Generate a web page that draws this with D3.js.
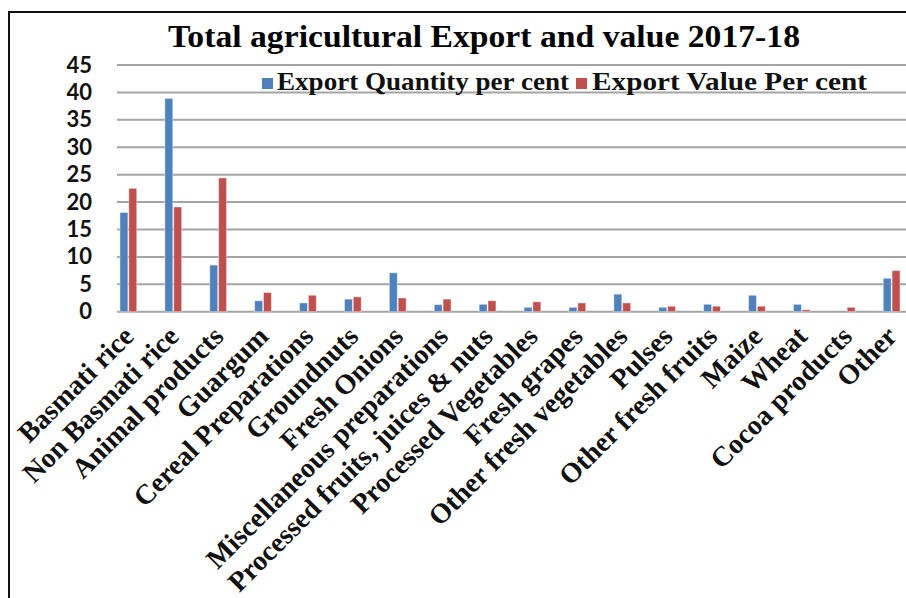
<!DOCTYPE html>
<html>
<head>
<meta charset="utf-8">
<script src="https://cdn.jsdelivr.net/npm/d3@7"></script>
<style>
  body { margin: 0; background: #fff; }
  svg { display: block; }
</style>
</head>
<body>
<svg id="chart"></svg>
<script>
const width = 906, height = 598

const categories = [
    "Basmati rice", "Non Basmati rice", "Animal products", "Guargum",
    "Cereal Preparations", "Groundnuts", "Fresh Onions", "Miscellaneous preparations",
    "Processed fruits, juices & nuts", "Processed Vegetables", "Fresh grapes",
    "Other fresh vegetables", "Pulses", "Other fresh fruits", "Maize", "Wheat",
    "Cocoa products", "Other",
]
const quantityPct = [18.1, 38.9, 8.5, 2.0, 1.6, 2.3, 7.1, 1.3, 1.35, 0.8, 0.8, 3.2, 0.8, 1.35, 3.0, 1.35, 0, 6.1]
const valuePct = [22.5, 19.1, 24.4, 3.5, 3.0, 2.7, 2.5, 2.3, 2.0, 1.8, 1.6, 1.6, 1.0, 1.0, 1.0, 0.35, 0.8, 7.5]
const seriesNames = ["Export Quantity per cent", "Export Value Per cent"]
const yTicks = [0, 5, 10, 15, 20, 25, 30, 35, 40, 45]

const colors = ["#4f81bd", "#c0504d"]

const svg = d3.select("svg#chart")
    .attr("width", width)
    .attr("height", height)
    .attr("viewBox", [0, 0, width, height])

const xScale = d3.scaleBand()
    .domain(categories)
    .range([105.9, 105.9 + 44.9 * categories.length])

const yScale = d3.scaleLinear()
    .domain([0, 45])
    .range([311.7, 65])

const innerScale = d3.scaleBand()
    .domain(d3.range(seriesNames.length))
    .range([xScale.bandwidth() / 2 - 8.4, xScale.bandwidth() / 2 + 8.4])
    .paddingInner(0.1)

// frame
svg.append("path")
    .attr("d", `M9,${height} V12 H${width}`)
    .attr("fill", "none")
    .attr("stroke", "#111")
    .attr("stroke-width", 2)

// title
svg.append("text")
    .attr("x", 168)
    .attr("y", 47)
    .attr("textLength", 632)
    .attr("lengthAdjust", "spacingAndGlyphs")
    .style("font-family", "'Liberation Serif', 'Times New Roman', serif")
    .style("font-weight", "bold")
    .style("font-size", "32px")
    .text("Total agricultural Export and value  2017-18")

// grid lines
svg.append("g").classed("grid", true)
    .selectAll("line")
    .data(yTicks)
    .enter()
    .append("line")
    .attr("x1", 117)
    .attr("x2", width)
    .attr("y1", d => yScale(d))
    .attr("y2", d => yScale(d))
    .attr("stroke", "#a5a5a5")
    .attr("stroke-width", 2)

// y axis labels
svg.append("g").classed("y-axis", true)
    .attr("transform", "translate(92,0)")
    .call(d3.axisLeft(yScale).tickValues(yTicks).tickSize(0).tickPadding(0))
    .call(g => g.select(".domain").remove())
    .selectAll("text")
    .style("font-family", "Lato, 'Open Sans', sans-serif")
    .style("font-weight", "bold")
    .style("font-size", "22px")
    .attr("fill", "#111")

// bars
const rows = categories.map((c, i) => ({cat: c, vals: [quantityPct[i], valuePct[i]]}))

svg.selectAll("g.bar")
    .data(rows)
    .enter()
    .append("g").classed("bar", true)
    .attr("transform", d => `translate(${xScale(d.cat)},0)`)
    .selectAll("rect")
    .data(d => d.vals.map((v, s) => ({v, s})))
    .enter()
    .append("rect")
    .attr("x", d => innerScale(d.s))
    .attr("width", innerScale.bandwidth())
    .attr("y", d => yScale(d.v))
    .attr("height", d => yScale(0) - yScale(d.v))
    .attr("fill", d => colors[d.s])
    .attr("stroke", "rgba(255,255,255,0.45)")
    .attr("stroke-width", 1)

// x labels
svg.append("g").classed("x-labels", true)
    .selectAll("text")
    .data(categories)
    .enter()
    .append("text")
    .attr("transform", d => `translate(${xScale(d) + xScale.bandwidth() / 2 + 7},338) rotate(-45)`)
    .attr("text-anchor", "end")
    .style("font-family", "'Liberation Serif', 'Times New Roman', serif")
    .style("font-weight", "bold")
    .style("font-size", "28px")
    .attr("fill", "#111")
    .text(d => d)

// legend
const legendItems = [
    {name: seriesNames[0], sx: 262, tx: 277, len: 292},
    {name: seriesNames[1], sx: 576, tx: 592, len: 275},
]
const legend = svg.append("g").classed("legend", true)
legend.selectAll("rect")
    .data(legendItems)
    .enter()
    .append("rect")
    .attr("x", d => d.sx)
    .attr("y", 78)
    .attr("width", 11)
    .attr("height", 11)
    .attr("fill", (d, i) => colors[i])
legend.selectAll("text")
    .data(legendItems)
    .enter()
    .append("text")
    .attr("x", d => d.tx)
    .attr("y", 90)
    .attr("textLength", d => d.len)
    .attr("lengthAdjust", "spacingAndGlyphs")
    .style("font-family", "'Liberation Serif', 'Times New Roman', serif")
    .style("font-weight", "bold")
    .style("font-size", "26px")
    .attr("fill", "#111")
    .text(d => d.name)
</script>
</body>
</html>
